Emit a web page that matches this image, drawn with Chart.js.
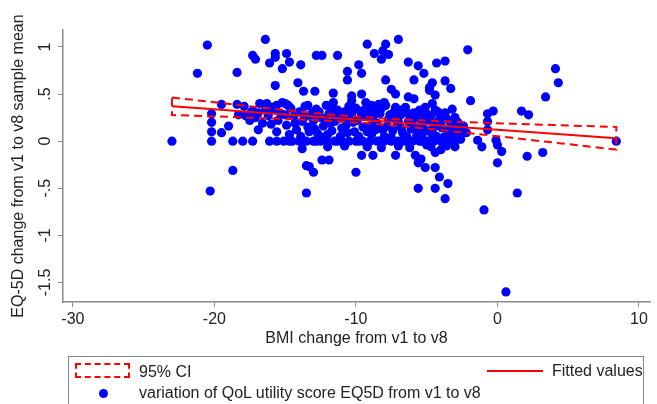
<!DOCTYPE html>
<html>
<head>
<meta charset="utf-8">
<script src="https://cdn.jsdelivr.net/npm/chart.js@4.4.1/dist/chart.umd.min.js"></script>
<style>
  html, body { margin: 0; padding: 0; background: #fff; overflow: hidden; }
  #wrap { position: relative; width: 657px; height: 404px; font-family: "Liberation Sans", Arial, sans-serif; color: #222; }
  #c { position: absolute; left: 0; top: 0; }
  .lg-box { position: absolute; left: 68px; top: 356px; width: 576px; height: 60px; border: 1px solid #888; box-sizing: border-box; }
  .lg-txt { position: absolute; font-size: 16px; line-height: 18px; white-space: nowrap; }
  .lg-ci { position: absolute; left: 75px; top: 363px; width: 55px; height: 15px; border: 2px dashed #ff0000; box-sizing: border-box; }
  .lg-fit { position: absolute; left: 487px; top: 370px; width: 56px; height: 2px; background: #ff0000; }
  .lg-dot { position: absolute; left: 99px; top: 389px; width: 9px; height: 9px; border-radius: 50%; background: #0000ff; }
</style>
</head>
<body>
<div id="wrap">
  <canvas id="c" width="657" height="404"></canvas>
  <div class="lg-box"></div>
  <div class="lg-ci"></div>
  <div class="lg-txt" style="left:139px;top:363px">95% CI</div>
  <div class="lg-fit"></div>
  <div class="lg-txt" style="left:552px;top:362px">Fitted values</div>
  <div class="lg-dot"></div>
  <div class="lg-txt" style="left:139px;top:384px">variation of QoL utility score EQ5D from v1 to v8</div>
</div>
<script>
// BMI change (x) and EQ-5D change (y)
const observations = [
  [-23.0, 0], [-20.5, 1.02], [-21.2, 0.72], [-18.4, 0.73], [-19.5, 0.39], [-18.4, 0.39],
  [-20.2, 0.29], [-20.2, 0.20], [-19.0, 0.16], [-19.5, 0.09], [-20.2, 0.10], [-20.2, 0],
  [-18.7, 0], [-18.0, 0], [-17.3, 0], [-18.7, -0.31], [-20.3, -0.53], [-18.3, 0.28],
  [-17.3, 0.91], [-17.1, 0.87], [-16.4, 1.08], [-16.1, 0.83], [-15.7, 0.93], [-15.7, 0.89],
  [-14.9, 0.93], [-14.7, 0.84], [-15.2, 0.77], [-13.9, 0.81], [-15.7, 0.59], [-14.1, 0.62],
  [-13.7, 0.53], [-12.9, 0.53], [-12.8, 0.91], [-12.4, 0.91], [-11.3, 0.91],
  [-17.3, 0.32], [-17.1, 0.25], [-16.8, 0.40], [-16.3, 0.40], [-15.9, 0.36], [-15.2, 0.41],
  [-15.0, 0.40], [-17.4, 0.31], [-15.6, 0.38], [-14.8, 0.38], [-13.4, 0.38], [-11.6, 0.41],
  [-10.3, 0.43], [-8.9, 0.38], [-8.0, 0.41],
  [-16.1, 0], [-15.6, 0], [-15.1, 0], [-14.7, 0],
  [-13.8, -0.08], [-13.5, -0.26], [-13.3, -0.27], [-13.0, -0.33], [-13.5, -0.55],
  [-12.4, -0.20], [-11.9, -0.20],
  [-9.2, 1.03], [-7.9, 1.03], [-7.0, 1.08], [-8.7, 0.93], [-8.2, 0.87], [-7.7, 0.92],
  [-8.1, 0.96], [-2.1, 0.97], [-6.3, 0.84], [-5.6, 0.80], [-5.2, 0.72], [-4.3, 0.83],
  [-3.7, 0.85], [-9.8, 0.81], [-10.6, 0.74], [-9.6, 0.72], [-10.6, 0.65],
  [-7.9, 0.65], [-7.5, 0.55], [-7.2, 0.50], [-5.9, 0.65], [-6.3, 0.47],
  [-4.6, 0.62], [-4.8, 0.54], [-4.4, 0.49], [-4.6, 0.40], [-4.4, 0.33], [-3.7, 0.64],
  [-3.3, 0.56], [-1.9, 0.43], [-3.2, 0.34], [-11.6, 0.51], [-10.3, 0.48], [-9.6, 0.50],
  [-5.9, 0.45], [-5.5, 0.33], [-4.8, 0.57],
  [4.1, 0.77], [4.3, 0.62], [3.4, 0.47], [1.7, 0.32], [2.2, 0.28],
  [-0.3, 0.32], [-0.7, 0.29], [-0.7, 0.21], [-0.7, 0.12], [-2.8, 0.11], [-2.5, 0.11],
  [8.4, 0], [-1.4, 0.01], [-1.1, -0.06], [-0.1, 0.01], [0, -0.04], [0.3, -0.11],
  [2.1, -0.16], [3.2, -0.12], [0.0, -0.23], [1.4, -0.55],
  [-3.1, 0.05], [-3.0, -0.06], [-4.4, -0.12], [-4.0, -0.09],
  [-4.4, -0.28], [-5.1, -0.28], [-4.1, -0.38], [-3.5, -0.45], [-4.4, -0.50], [-5.6, -0.50],
  [-3.7, -0.61], [-5.6, -0.23], [-5.4, -0.19], [-5.8, -0.15],
  [-7.2, -0.15], [-8.8, -0.15], [-9.6, -0.15], [-10.0, -0.33],
  [-0.95, -0.73], [0.6, -1.60],
  // dense band
  [-17.9, 0.37], [-17.5, 0.22], [-16.9, 0.30], [-16.6, 0.19], [-16.2, 0.27], [-15.8, 0.34],
  [-15.5, 0.22], [-15.3, 0.29], [-14.9, 0.17], [-14.6, 0.35], [-14.4, 0.26], [-14.2, 0.12],
  [-14.0, 0.31], [-13.8, 0.21], [-13.6, 0.37], [-13.4, 0.15], [-13.2, 0.28], [-13.0, 0.22],
  [-12.8, 0.34], [-12.7, 0.08], [-12.5, 0.25], [-12.3, 0.16], [-12.1, 0.38], [-11.9, 0.29],
  [-11.7, 0.11], [-11.5, 0.21], [-11.3, 0.33], [-11.1, 0.05], [-10.9, 0.26], [-10.7, 0.17],
  [-10.5, 0.37], [-10.3, 0.29], [-10.1, 0.10], [-9.9, 0.22], [-9.7, 0.32], [-9.5, 0.15],
  [-9.3, 0.41], [-9.1, 0.26], [-8.9, 0.07], [-8.7, 0.34], [-8.5, 0.19], [-8.3, 0.29],
  [-8.1, 0.12], [-7.9, 0.38], [-7.7, 0.23], [-7.5, 0.04], [-7.3, 0.31], [-7.1, 0.17],
  [-6.9, 0.27], [-6.7, 0.09], [-6.5, 0.36], [-6.3, 0.21], [-6.1, 0.13], [-5.9, 0.30],
  [-5.7, 0.06], [-5.5, 0.24], [-5.3, 0.16], [-5.1, 0.36], [-4.9, 0.11], [-4.7, 0.27],
  [-4.5, 0.19], [-4.3, 0.05], [-4.1, 0.23], [-3.9, 0.14], [-3.7, 0.30], [-3.5, 0.08],
  [-3.3, 0.19], [-2.9, 0.15], [-2.6, 0.02], [-2.2, 0.09],
  [-13.1, 0.30], [-12.2, 0.24], [-11.6, 0.35], [-10.8, 0.31], [-10.2, 0.20], [-9.4, 0.33],
  [-8.8, 0.25], [-8.2, 0.35], [-7.6, 0.28], [-7.0, 0.20], [-6.6, 0.30], [-6.0, 0.25],
  [-5.4, 0.30], [-4.8, 0.22], [-12.9, 0.13], [-11.0, 0.14], [-9.0, 0.16], [-8.0, 0.05],
  [-6.8, 0.14], [-4.6, 0.12], [-7.0, -0.05], [-6.2, -0.07], [-5.0, -0.04],
  [-16.9, 0.12], [-16.0, 0.18], [-15.6, 0.10], [-14.7, 0.07], [-13.9, 0.05], [-13.3, 0.10],
  [-12.6, 0.31], [-12.0, 0.07], [-11.8, 0.19], [-11.4, 0.27], [-10.6, 0.09], [-10.4, 0.23],
  [-9.8, 0.05], [-9.6, 0.26], [-9.2, 0.10], [-8.6, 0.12], [-8.4, 0.39], [-7.8, 0.16],
  [-7.4, 0.11], [-7.2, 0.36], [-6.8, 0.33], [-6.4, 0.05], [-6.0, 0.18], [-5.6, 0.13],
  [-5.2, 0.23], [-5.0, 0.29], [-4.6, 0.07], [-4.2, 0.31], [-4.0, 0.18], [-3.6, 0.24],
  [-3.4, 0.12], [-3.0, 0.25], [-2.8, 0.20], [-2.4, 0.16], [-15.0, 0.28], [-14.3, 0.19],
  [-13.6, 0.26], [-12.4, 0.04], [-11.2, 0.24], [-10.0, 0.35], [-8.9, 0.30], [-7.5, 0.24],
  [-6.2, 0.29], [-5.3, 0.08], [-4.4, 0.16], [-3.8, 0.04], [-16.4, 0.33], [-17.8, 0.27],
  [-12.0, -0.06], [-10.8, -0.05], [-9.2, -0.06], [-8.2, -0.07], [-4.7, -0.06], [-3.6, -0.05],
  // zero-change row
  [-14.5, 0], [-14.0, 0], [-13.5, 0], [-13.0, 0], [-12.5, 0], [-12.0, 0], [-11.5, 0],
  [-11.0, 0], [-10.5, 0], [-10.0, 0], [-9.5, 0], [-9.0, 0], [-8.5, 0], [-8.0, 0],
  [-7.5, 0], [-7.0, 0], [-6.5, 0], [-6.0, 0], [-5.5, 0], [-5.0, 0], [-4.5, 0],
  [-4.0, 0], [-3.5, 0], [-3.0, 0], [-12.8, 0], [-11.3, 0], [-9.8, 0], [-8.3, 0],
  [-6.8, 0], [-5.3, 0], [-3.8, 0]
];

const fitX    = [-23, -20, -17, -14, -11, -8, -5, -2, 1, 4, 8.4];
const fitY    = [0.370, 0.338, 0.305, 0.273, 0.240, 0.208, 0.176, 0.143, 0.111, 0.078, 0.031];
const ciUpper = [0.463, 0.413, 0.362, 0.315, 0.272, 0.240, 0.218, 0.200, 0.186, 0.171, 0.151];
const ciLower = [0.277, 0.263, 0.248, 0.231, 0.209, 0.177, 0.134, 0.086, 0.036, -0.015, -0.089];

const xTicks = [-30, -20, -10, 0, 10];
const yTicks = [-1.5, -1, -0.5, 0, 0.5, 1];

const FONT = '"Liberation Sans", Arial, sans-serif';
const fmt = v => String(v).replace('0.', '.');

// closed outline: upper edge left->right, lower edge back, then close
const ciOutline = fitX.map((x, i) => ({x, y: ciUpper[i]}))
  .concat(fitX.map((x, i) => ({x, y: ciLower[i]})).reverse())
  .concat([{x: fitX[0], y: ciUpper[0]}]);

const yTickLabels = {
  id: 'yTickLabels',
  afterDraw(chart) {
    const s = chart.scales.y, c = chart.ctx;
    c.save();
    c.font = '16px ' + FONT;
    c.fillStyle = '#222';
    c.textAlign = 'center';
    c.textBaseline = 'middle';
    s.ticks.forEach(t => {
      c.save();
      c.translate(s.right - 17, s.getPixelForValue(t.value));
      c.rotate(-Math.PI / 2);
      c.fillText(fmt(t.value), 0, 0);
      c.restore();
    });
    c.restore();
  }
};

const axisGrid = { display: true, drawOnChartArea: false, drawTicks: true, tickLength: 5, color: '#8a8a8a', lineWidth: 1 };

new Chart(document.getElementById('c').getContext('2d'), {
  type: 'scatter',
  data: {
    datasets: [
      {
        label: '95% CI', data: ciOutline, showLine: true, borderColor: '#ff0000',
        borderWidth: 2, borderDash: [8, 5], pointRadius: 0, fill: false, order: 0
      },
      {
        label: 'Fitted values', data: fitX.map((x, i) => ({x, y: fitY[i]})), showLine: true,
        borderColor: '#ff0000', borderWidth: 2, pointRadius: 0, fill: false, order: 0
      },
      {
        label: 'variation of QoL utility score EQ5D from v1 to v8',
        data: observations.map(p => ({x: p[0], y: p[1]})),
        pointRadius: 4.6, pointBackgroundColor: '#0000ff', pointBorderWidth: 0, order: 1
      }
    ]
  },
  options: {
    responsive: false,
    animation: false,
    devicePixelRatio: 1,
    layout: { padding: { left: 0, top: 30, right: 7, bottom: 50 } },
    plugins: { legend: { display: false }, tooltip: { enabled: false } },
    scales: {
      x: {
        type: 'linear', min: -30.7, max: 10.78,
        afterBuildTicks: s => { s.ticks = xTicks.map(v => ({value: v})); },
        afterFit: s => { s.height = 52; },
        ticks: { font: { size: 16, family: FONT }, color: '#222', padding: 3, callback: v => fmt(v) },
        grid: axisGrid,
        border: { display: true, color: '#8a8a8a', width: 1.5 },
        title: { display: true, text: 'BMI change from v1 to v8', font: { size: 16, family: FONT }, color: '#222', padding: { top: 0, bottom: 6 } }
      },
      y: {
        type: 'linear', min: -1.707, max: 1.18,
        afterBuildTicks: s => { s.ticks = yTicks.map(v => ({value: v})); },
        afterFit: s => { s.width = 63; },
        ticks: { display: false },
        grid: axisGrid,
        border: { display: true, color: '#8a8a8a', width: 1.5 },
        title: { display: true, text: 'EQ-5D change from v1 to v8 sample mean', font: { size: 16, family: FONT }, color: '#222', padding: { top: 9, bottom: 0 } }
      }
    }
  },
  plugins: [yTickLabels]
});
</script>
</body>
</html>
